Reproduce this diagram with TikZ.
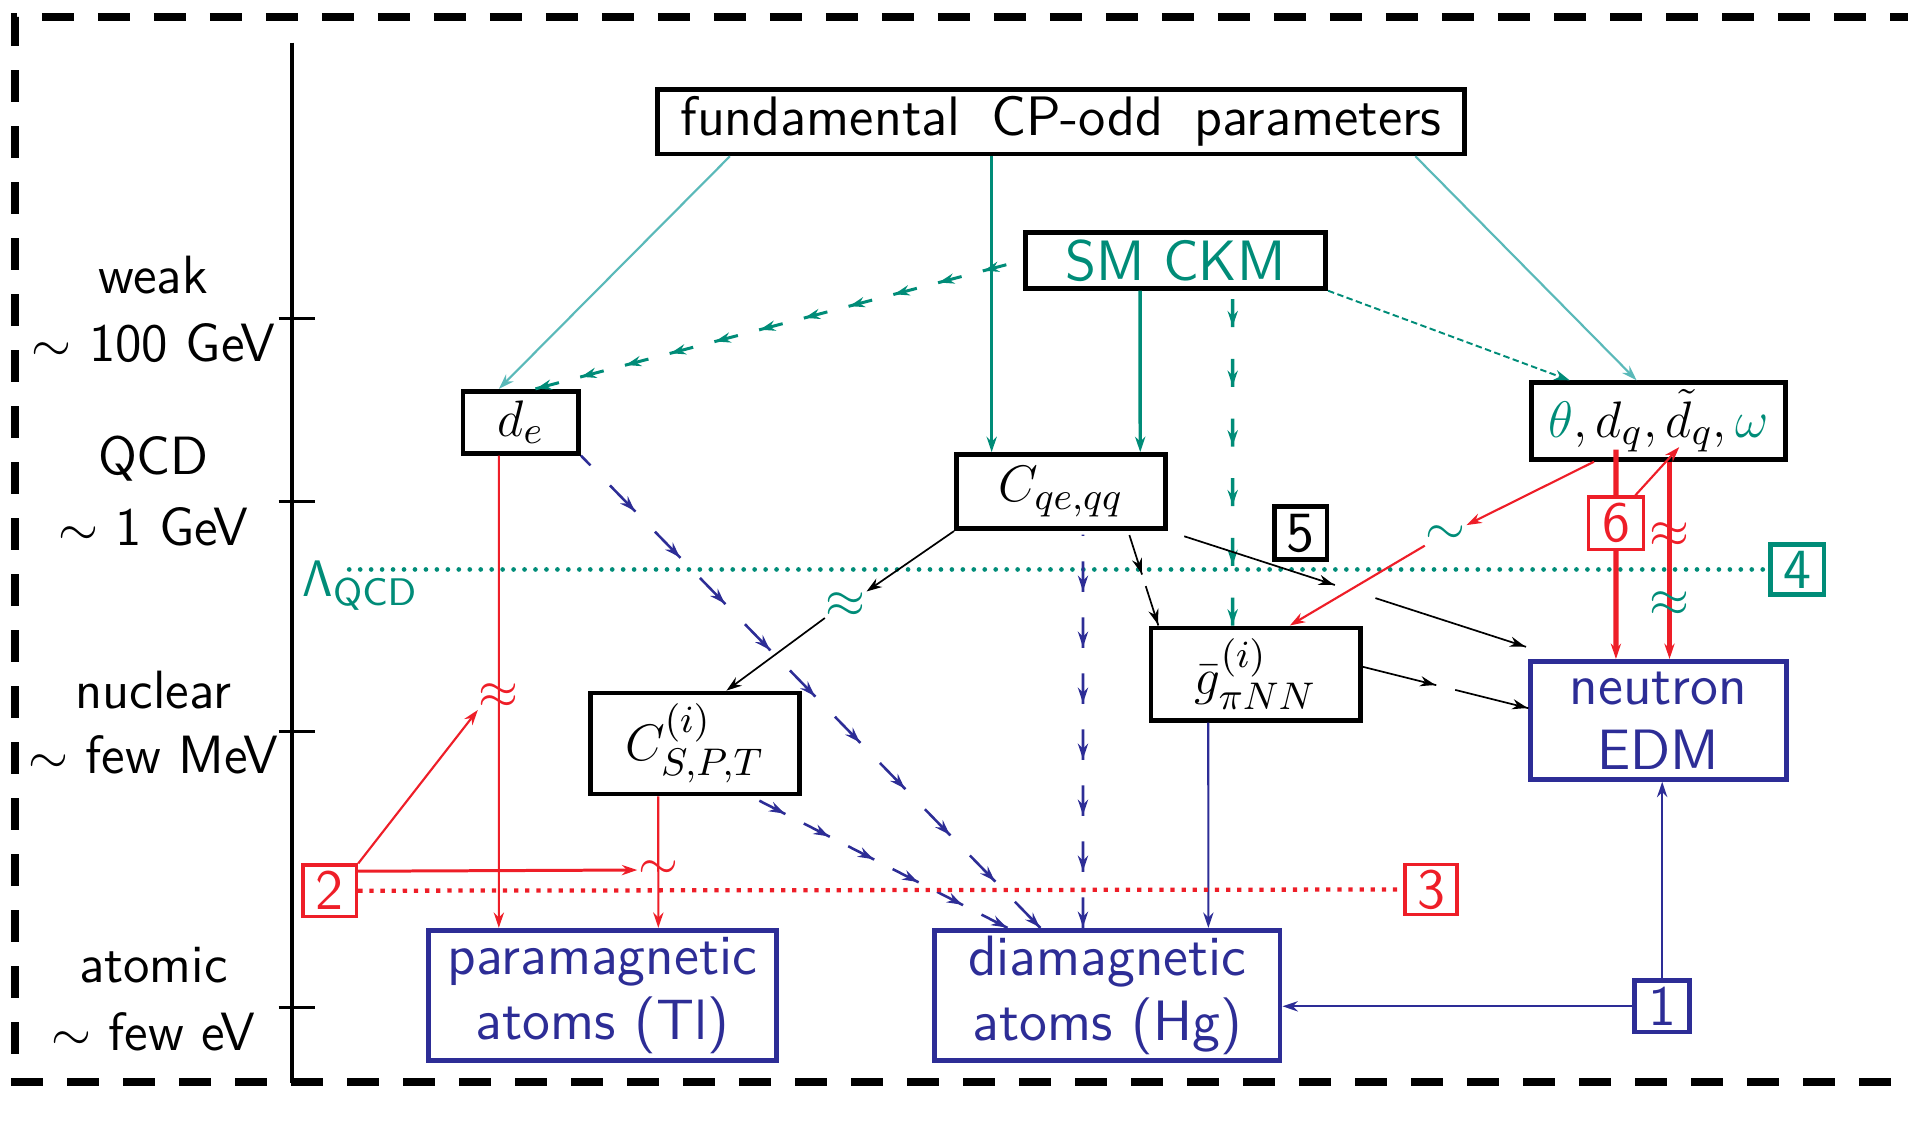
\documentclass[tikz,border=0pt]{standalone}
\usetikzlibrary{arrows.meta,decorations.markings,calc}
\definecolor{mteal}{RGB}{0,140,120}
\definecolor{lteal}{RGB}{90,185,185}
\definecolor{mblue}{RGB}{45,45,150}
\definecolor{mred}{RGB}{238,30,40}
\newcommand\diagfont{\fontsize{12.6}{15}\selectfont\sffamily}
\newcommand\boxfont{\fontsize{13.3}{15.2}\selectfont\sffamily}
\tikzset{
  >={Stealth[length=3.6pt,width=2.4pt]},
  bx/.style={draw, line width=1.1pt, inner sep=0pt, align=center, font=\boxfont},
  mbx/.style={bx, font=\diagfont},
  sz/.style 2 args={minimum width={#1*0.01cm}, minimum height={#2*0.01cm}},
  sym/.style={inner sep=0pt, font=\diagfont},
  % dashed connector drawn from its target back to its source: every dash ends in an arrow tip
  darr/.style n args={3}{dash pattern=on #1 off #2,
    decoration={markings, mark=between positions 0.2pt and -0.15cm step #3 with {\arrowreversed{>}}},
    postaction={decorate}},
  frame/.style={line width=1.85pt, dash pattern=on 0.26cm off 0.2cm},
}
\begin{document}
\begin{tikzpicture}[x=0.01cm,y=-0.01cm,font=\diagfont]
\useasboundingbox (0,0) rectangle (1568,925);
% frame
\draw[frame] (1600,889) -- (12,889) -- (12,14) -- (1600,14);
% axis
\draw[line width=0.9pt] (240,35) -- (240,890);
\foreach \yy in {262,412,601,828} \draw[line width=0.7pt] (229,\yy) -- (259,\yy);
\node (ax1) at (126,226) {weak};
\node (ax2) at (126,282) {$\sim$ 100 GeV};
\node (ax3) at (126,377) {QCD};
\node (ax4) at (126,433) {$\sim$ 1 GeV};
\node (ax5) at (126,567) {nuclear};
\node (ax6) at (126,620) {$\sim$ few MeV};
\node (ax7) at (126,793) {atomic};
\node (ax8) at (126,848) {$\sim$ few eV};
% boxes
\node[bx, sz={663}{53}, font={\fontsize{13}{15}\selectfont\sffamily\spaceskip=0.55em\relax}] (fund) at (872,100) {fundamental CP-odd parameters};
\node[bx, sz={247}{46}, text=mteal] (ckm) at (966,214) {SM CKM};
\node[mbx, sz={95}{51}] (de) at (428,347) {$d_e$};
\node[mbx, sz={209}{63}] (theta) at (1363,346) {$\textcolor{mteal}{\theta}, d_q, \tilde d_q, \textcolor{mteal}{\omega}$};
\node[mbx, sz={172}{61}] (cqe) at (872,404) {$C_{qe,qq}$};
\node[bx, sz={43}{44}] (five) at (1069,438) {5};
\node[bx, sz={44}{41}, draw=mteal, text=mteal] (four) at (1477,468) {4};
\node[bx, sz={45}{43}, draw=mred, text=mred, line width=0.8pt] (six) at (1328,430) {6};
\node[mbx, sz={172}{76}] (gpi) at (1032,554) {$\bar g^{(i)}_{\pi NN}$};
\node[mbx, sz={172}{83}] (cspt) at (571,611) {$C^{(i)}_{S,P,T}$};
\node[bx, sz={210}{97}, draw=mblue, text=mblue] (nedm) at (1363,592) {neutron\\EDM};
\node[bx, sz={44}{42}, draw=mred, text=mred, line width=0.8pt] (two) at (271,732) {2};
\node[bx, sz={43}{41}, draw=mred, text=mred, line width=0.8pt] (three) at (1176,731) {3};
\node[bx, sz={286}{107}, draw=mblue, text=mblue] (para) at (495,818) {paramagnetic\\atoms (Tl)};
\node[bx, sz={284}{107}, draw=mblue, text=mblue] (dia) at (910,818) {diamagnetic\\atoms (Hg)};
\node[bx, sz={45}{42}, draw=mblue, text=mblue] (one) at (1366,827) {1};
% Lambda_QCD line
\node[text=mteal, anchor=west, sym] (lqcd) at (248,481) {$\mathsf{\Lambda}_{\mathsf{QCD}}$};
\coordinate (lstart) at (287,468);
\draw[mteal, line width=1.1pt, line cap=round, dash pattern=on 0pt off 0.09cm] (lstart) -- (four.west);
% from fundamental
\draw[lteal, line width=0.5pt, ->] ([xshift=-2.72cm]fund.south) -- ([xshift=-0.18cm]de.north);
\draw[mteal, line width=0.8pt, ->] ([xshift=-0.57cm]fund.south) -- ([xshift=-0.57cm]cqe.north);
\draw[lteal, line width=0.5pt, ->] ([xshift=2.91cm]fund.south) -- ([xshift=-0.18cm]theta.north);
% from CKM
\draw[mteal, line width=0.7pt, darr={0.2cm}{0.18cm}{0.38cm}] ([xshift=0.12cm]de.north) -- (ckm.west);
\draw[mteal, line width=0.8pt, ->] ([xshift=-0.29cm]ckm.south) -- ([xshift=0.65cm]cqe.north);
\draw[mteal, line width=0.8pt, darr={0.23cm}{0.26cm}{0.49cm}] ([xshift=-0.19cm]gpi.north) -- ([xshift=0.47cm,yshift=-0.02cm]ckm.south);
\draw[mteal, line width=0.45pt, dash pattern=on 1.5pt off 0.8pt, ->] (ckm.south east) -- ([xshift=-0.73cm]theta.north);
% from d_e
\draw[mred, line width=0.5pt, ->] ([xshift=-0.18cm]de.south) -- node[pos=0.51, sym, text=mred] (apxde) {$\approx$} ([xshift=-0.85cm]para.north);
\draw[mblue, line width=0.6pt, darr={0.3cm}{0.23cm}{0.53cm}] ([xshift=-0.55cm]dia.north) -- (de.south east);
% from C_SPT
\draw[mred, line width=0.5pt, ->] ([xshift=-0.30cm]cspt.south) -- node[pos=0.56, sym, text=mred] (simsp) {$\sim$} ([xshift=0.46cm]para.north);
\draw[mblue, line width=0.6pt, darr={0.24cm}{0.17cm}{0.41cm}] ([xshift=-0.82cm]dia.north) -- ([xshift=0.46cm]cspt.south);
% from C_qe,qq
\node[text=mteal, sym] (apxq) at (695,497) {$\approx$};
\draw[line width=0.4pt, ->] (cqe.south west) -- (apxq.north east);
\draw[line width=0.4pt, ->] (apxq.south west) -- ([xshift=0.26cm]cspt.north);
\draw[mblue, line width=0.6pt, darr={0.25cm}{0.21cm}{0.46cm}] ([xshift=-0.20cm]dia.north) -- ([xshift=0.18cm,yshift=-0.03cm]cqe.south);
\draw[line width=0.4pt, darr={0.34cm}{0.1cm}{0.44cm}] ([xshift=-0.80cm]gpi.north) -- ([xshift=0.56cm,yshift=-0.03cm]cqe.south);
\draw[line width=0.4pt, darr={1.3cm}{0.35cm}{1.65cm}] ([xshift=-0.02cm,yshift=0.1cm]nedm.north west) -- (cqe.south east);
% from g_piNN
\draw[line width=0.4pt, darr={0.62cm}{0.16cm}{0.78cm}] ([yshift=0.1cm]nedm.west) -- ([yshift=0.06cm]gpi.east);
\draw[mblue, line width=0.5pt, ->] ([xshift=-0.39cm]gpi.south) -- ([xshift=0.83cm]dia.north);
% from theta box
\node[text=mteal, sym] (simth) at (1188,440) {$\sim$};
\draw[mred, line width=0.5pt, ->] ([xshift=-0.53cm]theta.south) -- (simth.north east);
\draw[mred, line width=0.5pt, ->] (simth.south west) -- ([xshift=0.28cm]gpi.north);
\draw[mred, line width=1.2pt] ([xshift=-0.35cm,yshift=0.1cm]theta.south) -- (six.north);
\draw[mred, line width=1.2pt, ->] (six.south) -- ([xshift=-0.35cm]nedm.north);
\draw[mred, line width=1.2pt, ->] ([xshift=0.09cm]theta.south) -- node[pos=0.37, sym, text=mred] (apxt1) {$\approx$} node[pos=0.72, sym, text=mteal] (apxt2) {$\approx$} ([xshift=0.09cm]nedm.north);
\draw[mred, line width=0.5pt, ->] ([xshift=-0.08cm]six.north east) -- ([xshift=0.17cm,yshift=0.12cm]theta.south);
% from 2
\draw[mred, line width=0.5pt, ->] (two.north east) -- (apxde.south west);
\draw[mred, line width=0.7pt, ->] ([yshift=0.16cm]two.east) -- (simsp.west);
\draw[mred, line width=1pt, dash pattern=on 1pt off 1.6pt] (two.east) -- (three.west);
% from 1
\draw[mblue, line width=0.5pt, ->] (one.west) -- (one.west -| dia.east);
\draw[mblue, line width=0.5pt, ->] (one.north) -- (one.north |- nedm.south);
\end{tikzpicture}
\end{document}
